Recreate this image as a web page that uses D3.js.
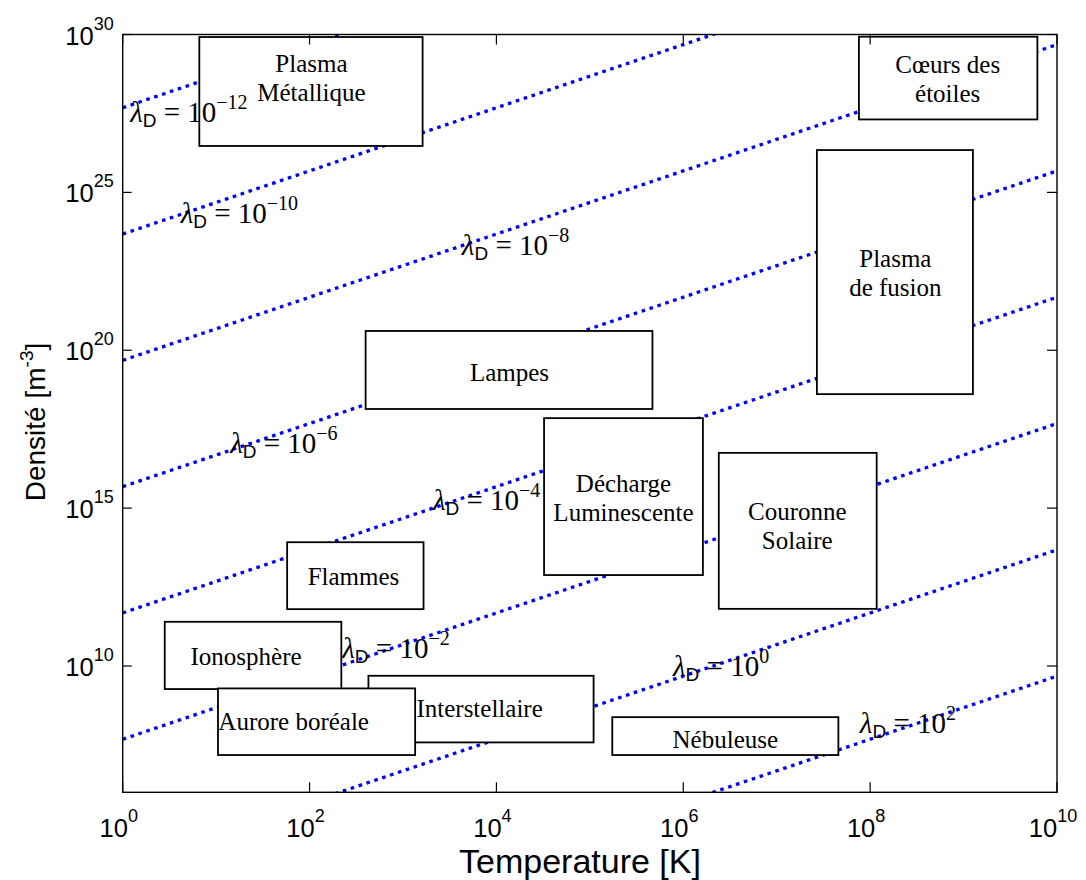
<!DOCTYPE html>
<html lang="fr">
<head>
<meta charset="UTF-8">
<title>Densité - Température des plasmas</title>
<script src="https://d3js.org/d3.v7.min.js"></script>
<style>
    body { margin: 0; background: #fff; }
    .tick-label { font-family: "Liberation Sans", Arial, sans-serif; font-size: 25.5px; fill: #000; }
    .axis-title { font-family: "Liberation Sans", Arial, sans-serif; fill: #000; }
    .box-text { font-family: "Liberation Serif", "Times New Roman", "DejaVu Serif", serif; font-size: 25px; fill: #000; text-anchor: middle; }
    .debye { font-family: "Liberation Serif", "Times New Roman", "DejaVu Serif", serif; font-size: 29px; fill: #000; }
</style>
</head>
<body>
<svg id="chart" width="1086" height="880"></svg>
<script>
// exponents (base 10)
const xTicks = [0, 2, 4, 6, 8, 10];
const yTicks = [10, 15, 20, 25, 30];

// Debye length lines: exponent of lambda, log10(n) at T=1 and at T=1e10
const debyeExp = [-12, -10, -8, -6, -4, -2, 0, 2];
const debyeN0 = [27.68, 23.68, 19.68, 15.68, 11.68, 7.68, 3.68, -0.32];
const debyeN10 = [37.68, 33.68, 29.68, 25.68, 21.68, 17.68, 13.68, 9.68];
// label anchor (log10 T, log10 n) of each line label
const debyeLabT = [0.08, 0.62, 3.63, 1.15, 3.32, 2.35, 5.89, 7.89];
const debyeLabN = [27.23, 24.02, 23.02, 16.75, 14.94, 10.24, 9.68, 7.87];

// plasma domains (log10 T and log10 n)
const boxNames = [
    ["Plasma", "Métallique"],
    ["Cœurs des", "étoiles"],
    ["Plasma", "de fusion"],
    ["Lampes"],
    ["Décharge", "Luminescente"],
    ["Couronne", "Solaire"],
    ["Flammes"],
    ["Ionosphère"],
    ["Interstellaire"],
    ["Aurore boréale"],
    ["Nébuleuse"]
];
const boxT0 = [0.82, 7.88, 7.43, 2.60, 4.51, 6.38, 1.76, 0.45, 2.63, 1.02, 5.24];
const boxT1 = [3.21, 9.79, 9.10, 5.67, 6.21, 8.07, 3.22, 2.34, 5.04, 3.13, 7.66];
const boxN0 = [26.47, 27.31, 18.61, 18.14, 12.88, 11.81, 11.80, 9.27, 7.58, 7.18, 7.18];
const boxN1 = [29.92, 29.93, 26.34, 20.61, 17.85, 16.75, 13.92, 11.40, 9.69, 9.29, 8.38];
// text anchor: centre (log10 T) and first baseline (log10 n)
const boxTextT = [2.02, 8.83, 8.27, 4.14, 5.36, 7.22, 2.47, 1.32, 3.82, 1.83, 6.45];
const boxTextN = [28.81, 28.79, 22.64, 19.04, 15.52, 14.62, 12.57, 10.03, 8.38, 7.97, 7.40];

const svg = d3.select("#chart");
const mLeft = 122.7, mRight = 1057, mTop = 34.5, mBottom = 792.3;
const serif = "Liberation Serif, Times New Roman, DejaVu Serif, serif";

const x = d3.scaleLog().domain([1, 1e10]).range([mLeft, mRight]);
const y = d3.scaleLog().domain([1e6, 1e30]).range([mBottom, mTop]);
const p10 = e => Math.pow(10, e);

svg.append("defs").append("clipPath").attr("id", "plotClip")
    .append("rect")
    .attr("x", mLeft).attr("y", mTop)
    .attr("width", mRight - mLeft).attr("height", mBottom - mTop);

// Debye lines
const line = d3.line().x(d => x(d[0])).y(d => y(d[1]));
svg.append("g").attr("clip-path", "url(#plotClip)")
    .selectAll("path")
    .data(debyeExp.map((e, i) => [[1, p10(debyeN0[i])], [1e10, p10(debyeN10[i])]]))
    .join("path")
    .attr("d", line)
    .attr("fill", "none")
    .attr("stroke", "#0000ff")
    .attr("stroke-width", 3.3)
    .attr("stroke-dasharray", "3.6,4.7");

// boxes
const boxes = boxNames.map((name, i) => ({
    name, t0: p10(boxT0[i]), t1: p10(boxT1[i]), n0: p10(boxN0[i]), n1: p10(boxN1[i]),
    tt: p10(boxTextT[i]), tn: p10(boxTextN[i])
}));
const bg = svg.append("g").selectAll("g").data(boxes).join("g");
bg.append("rect")
    .attr("x", d => x(d.t0))
    .attr("y", d => y(d.n1))
    .attr("width", d => x(d.t1) - x(d.t0))
    .attr("height", d => y(d.n0) - y(d.n1))
    .attr("fill", "#fff")
    .attr("stroke", "#000")
    .attr("stroke-width", 1.8);
bg.each(function(d) {
    const t = d3.select(this).append("text")
        .attr("class", "box-text")
        .attr("font-family", serif);
    d.name.forEach((s, k) => {
        t.append("tspan")
            .attr("x", x(d.tt))
            .attr("y", y(d.tn) + k * 29)
            .text(s);
    });
});

// Debye labels
const lab = svg.append("g").selectAll("text")
    .data(debyeExp.map((e, i) => ({ e, t: p10(debyeLabT[i]), n: p10(debyeLabN[i]) })))
    .join("text")
    .attr("class", "debye")
    .attr("font-family", serif)
    .attr("x", d => x(d.t))
    .attr("y", d => y(d.n));
lab.append("tspan").attr("font-style", "italic").text("λ");
lab.append("tspan")
    .style("font-family", "'Liberation Sans', Arial, sans-serif")
    .attr("font-size", 19).attr("dy", 5).text("D");
lab.append("tspan").attr("dy", -5).text(" = 10");
lab.append("tspan")
    .attr("font-size", 20).attr("dy", -13)
    .text(d => d.e < 0 ? "\u2212" + (-d.e) : String(d.e));

// frame
svg.append("rect")
    .attr("x", mLeft).attr("y", mTop)
    .attr("width", mRight - mLeft).attr("height", mBottom - mTop)
    .attr("fill", "none").attr("stroke", "#000").attr("stroke-width", 1.4);

// ticks
const tickG = svg.append("g").attr("stroke", "#000").attr("stroke-width", 1.2);
xTicks.forEach(e => {
    const px = x(p10(e));
    tickG.append("line").attr("x1", px).attr("x2", px).attr("y1", mBottom).attr("y2", mBottom - 10);
    tickG.append("line").attr("x1", px).attr("x2", px).attr("y1", mTop).attr("y2", mTop + 10);
});
yTicks.forEach(e => {
    const py = y(p10(e));
    tickG.append("line").attr("x1", mLeft).attr("x2", mLeft + 9).attr("y1", py).attr("y2", py);
    tickG.append("line").attr("x1", mRight).attr("x2", mRight - 10).attr("y1", py).attr("y2", py);
});

// tick labels
const xl = svg.append("g").selectAll("text").data(xTicks).join("text")
    .attr("class", "tick-label")
    .attr("x", d => x(p10(d)) - 4)
    .attr("y", 837)
    .attr("text-anchor", "middle");
xl.append("tspan").text("10");
xl.append("tspan").attr("font-size", 18).attr("dy", -15).text(d => d);

const yl = svg.append("g").selectAll("text").data(yTicks).join("text")
    .attr("class", "tick-label")
    .attr("x", mLeft - 9)
    .attr("y", d => y(p10(d)) + 10)
    .attr("text-anchor", "end");
yl.append("tspan").text("10");
yl.append("tspan").attr("font-size", 18).attr("dy", -15).text(d => d);

// axis titles
svg.append("text").attr("class", "axis-title")
    .attr("font-size", 34)
    .attr("x", 580).attr("y", 873)
    .attr("text-anchor", "middle")
    .text("Temperature [K]");

const yt = svg.append("text").attr("class", "axis-title")
    .attr("font-size", 28)
    .attr("transform", "translate(45, 422) rotate(-90)")
    .attr("text-anchor", "middle");
yt.append("tspan").text("Densité [m");
yt.append("tspan").attr("font-size", 19).attr("dy", -12).text("-3");
yt.append("tspan").attr("dy", 12).text("]");
</script>
</body>
</html>
